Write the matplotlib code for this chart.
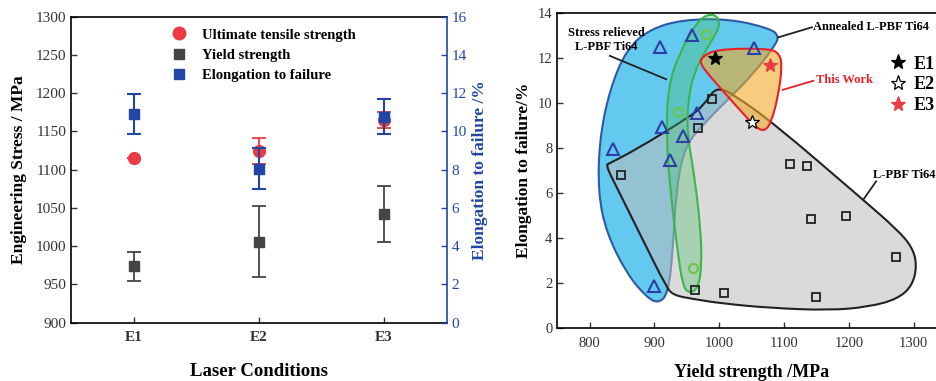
import numpy as np
import matplotlib
matplotlib.use("Agg")
import matplotlib.pyplot as plt
from matplotlib.path import Path
from matplotlib.patches import PathPatch
from matplotlib.lines import Line2D

plt.rcParams['font.family'] = ['Liberation Serif', 'DejaVu Serif']

# ---- left panel: tensile results per laser condition ----
conditions = ["E1", "E2", "E3"]
uts = [1115, 1125, 1165]
uts_err = [0, 17, 10]
yield_strength = [974, 1006, 1042]
yield_err = [19, 46, 37]
elongation = [10.9, 8.05, 10.78]
elongation_err = [1.05, 1.07, 0.9]

# ---- right panel: yield strength vs elongation, literature + this work ----
annealed_ys = [909, 958, 1053, 965, 912, 944, 836, 924, 900]
annealed_el = [12.5, 13.05, 12.45, 9.55, 8.95, 8.55, 7.95, 7.5, 1.9]
relieved_ys = [980, 936, 960]
relieved_el = [13.1, 9.6, 2.7]
asbuilt_ys = [988, 967, 849, 1109, 1136, 1141, 1195, 1272, 962, 1007, 1150]
asbuilt_el = [10.2, 8.9, 6.8, 7.3, 7.2, 4.87, 4.97, 3.18, 1.7, 1.58, 1.4]
work_labels = ["E1", "E2", "E3"]
work_ys = [993, 1051, 1079]
work_el = [12.0, 9.15, 11.7]

# region outlines (yield strength, elongation)
annealed_x = [857, 893, 944, 1016, 1078, 1092, 1086, 1052, 1011, 975, 947, 934, 928, 921, 906, 887, 857, 826, 813, 815, 831]
annealed_y = [12.41, 13.3, 13.72, 13.75, 13.33, 13.0, 12.56, 11.29, 10.1, 9.06, 8.1, 6.31, 3.33, 1.55, 1.1, 1.4, 2.44, 4.23, 6.01, 8.39, 10.63]
relieved_x = [983, 998, 1001, 980, 961, 952, 950, 961, 971, 973, 967, 954, 944, 936, 926, 918, 921, 939, 965]
relieved_y = [13.97, 13.87, 13.38, 12.41, 11.37, 10.18, 8.69, 6.9, 4.52, 2.74, 1.77, 1.55, 1.85, 3.33, 5.71, 8.39, 10.77, 12.26, 13.6]
asbuilt_x = [827, 827, 872, 952, 975, 990, 1003, 1021, 1083, 1222, 1274, 1298, 1305, 1298, 1275, 1230, 1170, 1080, 1005, 960, 929, 918, 882, 841, 828]
asbuilt_y = [7.28, 7.28, 7.95, 9.36, 9.88, 10.55, 10.65, 10.4, 9.14, 5.71, 4.4, 3.6, 2.8, 1.9, 1.3, 0.95, 0.8, 0.9, 1.1, 1.3, 1.47, 1.85, 3.93, 6.31, 7.05]
work_x = [972, 996, 1078, 1093, 1097, 1091, 1080, 1070, 1057, 1026, 985, 971]
work_y = [12.04, 12.41, 12.44, 12.19, 11.67, 10.33, 9.14, 8.76, 8.91, 9.88, 11.22, 11.74]

red = '#ec3942'
grey = '#444444'
blue = '#2146a6'


def smooth_patch(xs, ys, **kw):
    pts = np.column_stack([xs, ys]).astype(float)
    mids = (pts + np.roll(pts, -1, axis=0)) / 2
    verts = [mids[-1]]
    codes = [Path.MOVETO]
    for i in range(len(pts)):
        verts += [pts[i], mids[i]]
        codes += [Path.CURVE3, Path.CURVE3]
    return PathPatch(Path(verts, codes), **kw)


fig = plt.figure(figsize=(9.37, 3.81), dpi=100)

# ---------------- left panel ----------------
ax1 = fig.add_axes([71 / 937, 1 - 322.7 / 381, 375.7 / 937, 306 / 381])
xpos = np.arange(1, len(conditions) + 1)
ax1.errorbar(xpos, uts, yerr=uts_err, fmt='o', color=red, ms=8.5,
             capsize=5, elinewidth=1.3, capthick=1.3, zorder=3)
ax1.errorbar(xpos, yield_strength, yerr=yield_err, fmt='s', color=grey, ms=7,
             capsize=5, elinewidth=1.3, capthick=1.3, zorder=3)
ax1.set_xlim(0.5, 3.5)
ax1.set_ylim(900, 1300)
ax1.set_yticks(np.arange(900, 1301, 50))
ax1.set_xticks(xpos)
ax1.set_xticklabels(conditions, fontweight='bold', fontsize=10)
ax1.tick_params(direction='in', length=4, width=1, labelsize=11, colors='#333333')
ax1.tick_params(axis='x', pad=6)
ax1.set_ylabel('Engineering Stress / MPa', fontsize=12.5, fontweight='bold', labelpad=6)
ax1.set_xlabel('Laser Conditions', fontsize=13.5, fontweight='bold', labelpad=14)
ax1.spines['right'].set_visible(False)
for s in ['left', 'top', 'bottom']:
    ax1.spines[s].set_linewidth(1.2)

ax1b = ax1.twinx()
ax1b.errorbar(xpos, elongation, yerr=elongation_err, fmt='s', color=blue, ms=7,
              capsize=5, elinewidth=1.5, capthick=1.5, zorder=4)
ax1b.set_ylim(0, 16)
ax1b.set_yticks(np.arange(0, 17, 2))
ax1b.tick_params(direction='in', length=4, width=1, labelsize=11, colors=blue)
ax1b.spines['right'].set_color(blue)
ax1b.spines['right'].set_linewidth(1.2)
for s in ['left', 'top', 'bottom']:
    ax1b.spines[s].set_visible(False)
ax1b.set_ylabel('Elongation to failure /%', fontsize=12.5, fontweight='bold',
                color=blue, labelpad=4)

leg_handles = [Line2D([], [], marker='o', ls='none', color=red, ms=9),
               Line2D([], [], marker='s', ls='none', color=grey, ms=7),
               Line2D([], [], marker='s', ls='none', color=blue, ms=7)]
ax1.legend(leg_handles, ['Ultimate tensile strength', 'Yield strength', 'Elongation to failure'],
           loc='upper left', bbox_to_anchor=(0.268, 0.962), frameon=False,
           prop={'weight': 'bold', 'size': 10.5}, handlelength=1.0, handletextpad=1.1,
           labelspacing=0.49, borderpad=0, borderaxespad=0)

# ---------------- right panel ----------------
ax2 = fig.add_axes([557.3 / 937, 1 - 328.3 / 381, 388.8 / 937, 315 / 381])
ax2.set_xlim(750, 1350)
ax2.set_ylim(0, 14)

ax2.add_patch(smooth_patch(annealed_x, annealed_y, facecolor='#63c9ef', edgecolor='#2d5aa5',
                           lw=1.5, zorder=1))
ax2.add_patch(smooth_patch(asbuilt_x, asbuilt_y, facecolor='#bdbdbd', alpha=0.55,
                           edgecolor='none', zorder=2))
ax2.add_patch(smooth_patch(asbuilt_x, asbuilt_y, facecolor='none', edgecolor='#222222',
                           lw=1.5, zorder=2.1))
ax2.add_patch(smooth_patch(relieved_x, relieved_y, facecolor='#4cbf6a', alpha=0.35,
                           edgecolor='none', zorder=3))
ax2.add_patch(smooth_patch(relieved_x, relieved_y, facecolor='none', edgecolor='#3cb54a',
                           lw=1.5, zorder=3.1))
ax2.add_patch(smooth_patch(work_x, work_y, facecolor='#f2aa28', alpha=0.6,
                           edgecolor='none', zorder=4))
ax2.add_patch(smooth_patch(work_x, work_y, facecolor='none', edgecolor='#e8202a',
                           lw=1.5, zorder=4.1))

ax2.plot(annealed_ys, annealed_el, ls='none', marker='^', ms=8, mfc='none',
         mec='#2b3fa5', mew=1.5, zorder=6)
ax2.plot(relieved_ys, relieved_el, ls='none', marker='o', ms=6.5, mfc='none',
         mec='#6cc644', mew=1.5, zorder=6)
ax2.plot(asbuilt_ys, asbuilt_el, ls='none', marker='s', ms=6, mfc='none',
         mec='#222222', mew=1.3, zorder=6)

star_style = [dict(mfc='black', mec='black'), dict(mfc='white', mec='black'),
              dict(mfc=red, mec=red)]
star_handles = []
for xs, ys, st in zip(work_ys, work_el, star_style):
    ax2.plot([xs], [ys], ls='none', marker='*', ms=10, zorder=7, mew=0.9, **st)
    star_handles.append(Line2D([], [], ls='none', marker='*', ms=11, mew=0.9, **st))
ax2.legend(star_handles, work_labels, loc='upper left', bbox_to_anchor=(0.853, 0.866),
           frameon=False, prop={'weight': 'bold', 'size': 13}, handlelength=1.0,
           handletextpad=0.35, labelspacing=0.22, borderpad=0, borderaxespad=0)

# callouts
ax2.text(826, 12.8, 'Stress relieved\nL-PBF Ti64', ha='center', va='center',
         fontsize=9, fontweight='bold', linespacing=1.25, zorder=8)
ax2.plot([831, 918], [12.11, 11.07], color='#222222', lw=1.3, zorder=8)
ax2.text(1145, 13.38, 'Annealed L-PBF Ti64', ha='left', va='center',
         fontsize=9, fontweight='bold', zorder=8)
ax2.plot([1143, 1091], [13.38, 12.93], color='#222222', lw=1.3, zorder=8)
ax2.text(1150, 11.03, 'This Work', ha='left', va='center', color='#e8202a',
         fontsize=9, fontweight='bold', zorder=8)
ax2.plot([1145, 1098], [11.0, 10.6], color='#e8202a', lw=1.3, zorder=8)
ax2.text(1237, 6.83, 'L-PBF Ti64', ha='left', va='center',
         fontsize=9, fontweight='bold', zorder=8)
ax2.plot([1242, 1222], [6.53, 5.71], color='#222222', lw=1.3, zorder=8)

ax2.set_xticks(np.arange(800, 1301, 100))
ax2.set_yticks(np.arange(0, 15, 2))
ax2.tick_params(direction='in', length=4, width=1, labelsize=10.5, colors='#333333')
ax2.tick_params(axis='x', pad=6)
for s in ax2.spines.values():
    s.set_linewidth(1.2)
ax2.set_xlabel('Yield strength /MPa', fontsize=13, fontweight='bold', labelpad=10)
ax2.set_ylabel('Elongation to failure/%', fontsize=12.5, fontweight='bold', labelpad=4)

fig.savefig('out.png', dpi=100)
